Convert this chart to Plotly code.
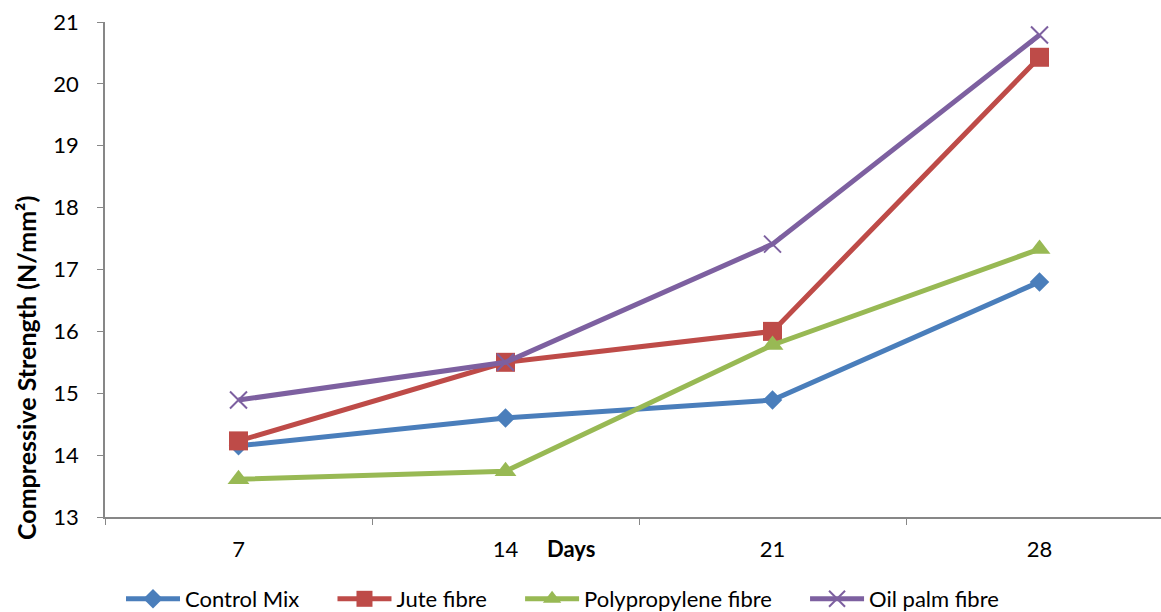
import plotly.graph_objects as go

days = ["7", "14", "21", "28"]
control_mix = [14.15, 14.6, 14.89, 16.8]
jute_fibre = [14.23, 15.5, 16.0, 20.43]
polypropylene_fibre = [13.61, 13.74, 15.78, 17.33]
oil_palm_fibre = [14.89, 15.5, 17.41, 20.79]

NB = "\u00a0"
series = [
    ("Control Mix", control_mix, "#4A7EBB", "diamond", 15),
    ("Jute fibre", jute_fibre, "#BE4B48", "square", 19),
    ("Polypropylene fibre", polypropylene_fibre, "#98B954", "triangle-up", 19),
    ("Oil palm fibre", oil_palm_fibre, "#7D60A0", "x-thin", 17),
]

fig = go.Figure()
for i, (name, vals, color, sym, size) in enumerate(series):
    marker = dict(symbol=sym, size=size, color=color)
    if sym == "x-thin":
        marker["line"] = dict(color=color, width=2)
    label = name + (NB * 5 if i < len(series) - 1 else "")
    fig.add_trace(go.Scatter(
        x=days, y=vals, name=label, mode="lines+markers",
        line=dict(color=color, width=5), marker=marker,
    ))

font_family = "Lato, Liberation Sans, sans-serif"
W, H = 1161, 612
L, R, T, B = 105, 0, 22, 95
pw = W - L - R
ph = H - T - B

fig.update_layout(
    width=W, height=H,
    margin=dict(l=L, r=R, t=T, b=B, autoexpand=False),
    plot_bgcolor="white", paper_bgcolor="white",
    font=dict(family=font_family, size=22, color="black"),
    showlegend=True,
    legend=dict(orientation="h", x=(121 - L) / pw, xanchor="left",
                y=-(599 - (H - B)) / ph, yanchor="middle",
                font=dict(size=22), itemwidth=54),
    xaxis=dict(
        type="category", range=[-0.5, 3.455], automargin=False,
        showline=True, linecolor="#878787", linewidth=1.5,
        ticks="outside", tickson="boundaries", ticklen=6, tickcolor="#878787",
        showgrid=False, zeroline=False, tickfont=dict(size=22),
        ticklabelstandoff=12,
    ),
    yaxis=dict(
        range=[13, 21], dtick=1, automargin=False,
        showline=True, linecolor="#878787", linewidth=1.5,
        ticks="outside", ticklen=6, tickcolor="#878787",
        showgrid=False, zeroline=False, tickfont=dict(size=22),
        ticklabelstandoff=14,
    ),
    annotations=[
        dict(text="<b>Days</b>", x=(571 - L) / pw, y=-(548 - (H - B)) / ph,
             xref="paper", yref="paper", xanchor="center", yanchor="middle",
             showarrow=False, font=dict(size=22)),
        dict(text="<b>Compressive Strength (N/mm²)</b>", textangle=-90,
             x=(26 - L) / pw, y=((H - B) - 368) / ph,
             xref="paper", yref="paper", xanchor="center", yanchor="middle",
             showarrow=False, font=dict(size=25)),
    ],
)

fig.write_html("out.html", config={"displayModeBar": False},
               post_script="document.body.style.margin='0px';document.body.style.overflow='hidden';")
